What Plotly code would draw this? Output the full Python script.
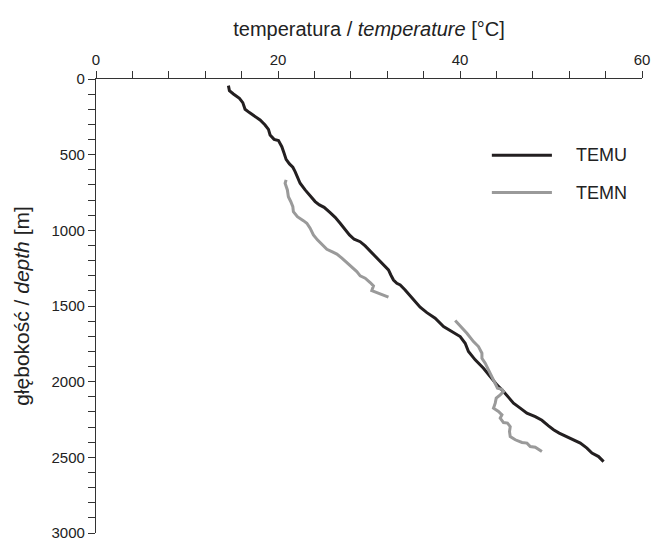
import plotly.graph_objects as go

# TEMU profile (depth m, temperature °C)
temu_depth = [44, 77, 99, 128, 156, 200, 222, 249, 271, 304, 333, 370, 399, 407, 447, 491, 531, 561,
              583, 612, 641, 689, 733, 773, 810, 832, 848, 883, 914, 953, 993, 1030, 1059, 1075, 1103,
              1136, 1174, 1207, 1235, 1262, 1295, 1328, 1350, 1361, 1394, 1434, 1460, 1508, 1544, 1581,
              1636, 1673, 1702, 1746, 1801, 1856, 1911, 1966, 2021, 2065, 2098, 2142, 2175, 2208, 2231,
              2255, 2292, 2318, 2340, 2373, 2406, 2439, 2472, 2495, 2528]
temu_temp = [14.55, 14.66, 15.10, 15.76, 16.13, 16.38, 16.86, 17.48, 18.03, 18.58, 18.95, 19.13, 19.57,
             20.05, 20.42, 20.67, 20.89, 21.26, 21.63, 21.88, 22.07, 22.43, 22.98, 23.53, 24.08, 24.55,
             25.07, 25.73, 26.28, 26.83, 27.38, 27.85, 28.37, 29.03, 29.58, 30.13, 30.68, 31.23, 31.78,
             32.14, 32.40, 32.69, 33.06, 33.43, 33.97, 34.52, 34.89, 35.62, 36.36, 37.27, 38.19, 39.29,
             40.02, 40.57, 40.93, 41.67, 42.58, 43.32, 44.06, 44.78, 45.22, 45.88, 46.62, 47.35, 48.27,
             49.00, 49.73, 50.28, 50.90, 52.12, 53.22, 53.95, 54.50, 55.23, 55.78]

# TEMN profile, two measured intervals (separated by a gap)
temn_depth_1 = [667, 689, 733, 778, 811, 844, 877, 910, 936, 953, 986, 1030, 1063, 1090, 1125, 1141,
                1157, 1184, 1213, 1240, 1273, 1301, 1316, 1345, 1367, 1398, 1411, 1420, 1442]
temn_temp_1 = [20.89, 20.78, 21.03, 21.14, 21.41, 21.63, 21.69, 22.13, 22.79, 23.17, 23.53, 23.89, 24.33,
               24.82, 25.37, 25.92, 26.47, 27.02, 27.56, 28.11, 28.66, 29.03, 29.58, 30.13, 30.49, 30.31,
               30.86, 31.41, 32.14]
temn_depth_2 = [1596, 1631, 1680, 1735, 1768, 1812, 1845, 1878, 1922, 1977, 2021, 2043, 2050, 2065, 2087,
                2109, 2142, 2175, 2197, 2219, 2241, 2270, 2274, 2297, 2330, 2363, 2384, 2402, 2406, 2429,
                2433, 2462]
temn_temp_2 = [39.47, 40.02, 40.76, 41.48, 42.03, 42.41, 42.41, 42.77, 43.13, 43.51, 43.87, 44.12, 44.61,
               44.78, 44.42, 43.98, 43.87, 43.68, 44.23, 44.61, 44.42, 44.78, 45.22, 45.52, 45.44, 45.52,
               46.07, 46.81, 47.36, 47.72, 48.27, 49.00]

series_names = ["TEMU", "TEMN"]
series_colors = ["#231f20", "#9a9a9a"]

x_tickvals = [0, 20, 40, 60]
y_tickvals = [0, 500, 1000, 1500, 2000, 2500, 3000]

FONT = "Liberation Sans, Arial, sans-serif"
AX = "#333333"

fig = go.Figure()
fig.add_trace(go.Scatter(x=temu_temp, y=temu_depth, mode="lines", name=series_names[0],
                         line=dict(color=series_colors[0], width=3), showlegend=False))
fig.add_trace(go.Scatter(x=temn_temp_1 + [None] + temn_temp_2,
                         y=temn_depth_1 + [None] + temn_depth_2,
                         mode="lines", name=series_names[1], connectgaps=False,
                         line=dict(color=series_colors[1], width=3), showlegend=False))

fig.update_layout(
    width=651, height=539,
    margin=dict(l=96, r=9, t=79, b=6),
    paper_bgcolor="white", plot_bgcolor="white",
    font=dict(family=FONT, color="#222222"),
    xaxis=dict(
        side="top", range=[0, 60], tickvals=x_tickvals, ticks="outside", ticklen=7,
        tickwidth=1.2, tickcolor=AX, showline=True, linecolor=AX, linewidth=1.3,
        showgrid=False, zeroline=False, tickfont=dict(size=15), automargin=False,
        ticklabeloverflow="allow",
        minor=dict(dtick=4, tick0=0, ticks="outside", ticklen=7, tickwidth=1.2, tickcolor=AX, showgrid=False),
        title=dict(text="temperatura / <i>temperature</i> [°C]", font=dict(size=20), standoff=8),
    ),
    yaxis=dict(
        range=[3000, 0], tickvals=y_tickvals, ticks="outside", ticklen=7,
        tickwidth=1.2, tickcolor=AX, showline=True, linecolor=AX, linewidth=1.3,
        showgrid=False, zeroline=False, tickfont=dict(size=15), automargin=False,
        ticklabeloverflow="allow",
        minor=dict(dtick=100, tick0=0, ticks="outside", ticklen=7, tickwidth=1.2, tickcolor=AX, showgrid=False),
        title=dict(text="głębokość / <i>depth</i> [m]", font=dict(size=21), standoff=16),
    ),
)

# legend drawn as key lines + labels
legend_y = [0.832, 0.750]
for name, color, ly in zip(series_names, series_colors, legend_y):
    fig.add_shape(type="line", xref="paper", yref="paper", x0=0.725, x1=0.835, y0=ly, y1=ly,
                  line=dict(color=color, width=3))
    fig.add_annotation(text=name, xref="paper", yref="paper", x=0.875, y=ly, xanchor="left",
                       yanchor="middle", showarrow=False, font=dict(size=18, color="#222222"))

fig.write_html("out.html")
